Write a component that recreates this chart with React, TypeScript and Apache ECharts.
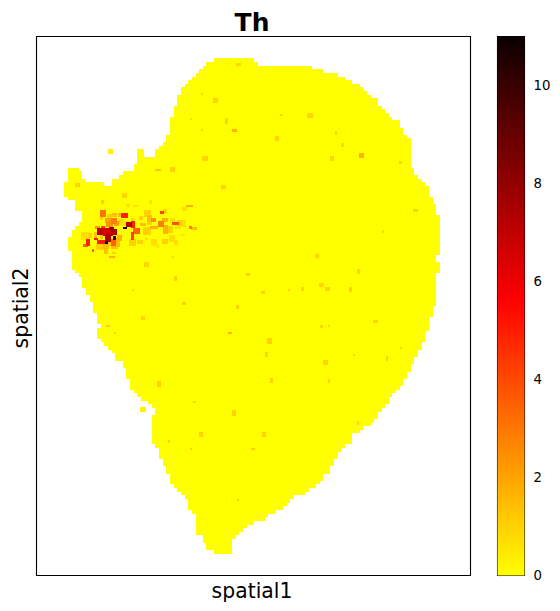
import React, { useEffect, useRef } from "react";
import * as echarts from "echarts";

const titleText = "Th";
const xName = "spatial1";
const yName = "spatial2";
const colorbarTicks = [0, 2, 4, 6, 8, 10];
const valueMax = 11;
const colormap = ["#ffff00", "#ff0000", "#0b0000"];
const gridCols = 119;
const gridRows = 148;
const firstRow = 6;

// Tissue outline: first and one-past-last column of each grid row, from firstRow downward.
const leftEdge = [
  49, 47, 46, 45, 44, 43, 42, 41, 40, 40, 39, 39, 39, 38, 38, 38, 37, 37, 37, 37, 37, 36, 36, 35, 34, 33, 33, 28, 28, 27,
  27, 24, 23, 21, 21, 8, 8, 8, 9, 11, 11, 11, 13, 13, 13, 12, 11, 10, 10, 9, 9, 9, 9, 10, 10, 10, 10, 10, 11, 12,
  13, 13, 13, 14, 14, 15, 15, 16, 16, 16, 17, 17, 17, 18, 17, 17, 17, 18, 19, 20, 21, 22, 22, 24, 24, 25, 25, 25, 26, 26,
  26, 27, 28, 29, 31, 32, 33, 33, 32, 32, 32, 32, 32, 32, 32, 32, 33, 34, 34, 34, 35, 35, 36, 36, 37, 37, 37, 38, 39, 40,
  41, 42, 42, 42, 43, 44, 44, 44, 44, 44, 44, 46, 46, 47, 47, 49,
];
const rightEdge = [
  60, 61, 76, 79, 83, 85, 87, 89, 90, 91, 92, 94, 94, 95, 96, 97, 98, 100, 100, 101, 101, 102, 103, 103, 103, 103, 103, 103, 103, 103,
  104, 104, 105, 106, 107, 108, 108, 108, 109, 109, 110, 110, 110, 111, 111, 111, 111, 111, 111, 111, 111, 111, 111, 111, 110, 110, 111, 111, 111, 110,
  110, 110, 110, 110, 110, 110, 110, 110, 109, 109, 109, 108, 108, 108, 108, 107, 107, 107, 106, 106, 105, 105, 104, 104, 103, 103, 102, 102, 101, 101,
  100, 99, 98, 97, 97, 96, 95, 94, 94, 93, 92, 90, 89, 87, 87, 87, 85, 84, 83, 83, 82, 82, 81, 81, 79, 79, 78, 77, 75, 74,
  71, 70, 69, 68, 66, 64, 63, 60, 58, 57, 56, 55, 54, 54, 54, 54,
];
// Rows whose tissue is split: [first column, row, one-past-last column]
const extraSpans = [
  [28, 31, 30], [28, 32, 30],
  [9, 36, 12], [9, 37, 13], [9, 38, 13], [9, 39, 14], [8, 40, 19],
];
// Expression spots: [column, row, column span, row span, value]
const spots = [
  [55.7, 7.6, 1.4, 0.8, 0.9], [45.7, 15.8, 0.55, 0.55, 0.9], [49.6, 17.5, 1.4, 1.4, 0.9], [42.7, 22.7, 0.55, 0.55, 0.9],
  [52.4, 23.2, 0.8, 1.6, 0.9], [45.7, 25.7, 0.55, 0.55, 0.9], [54.6, 25.8, 1.4, 0.8, 1.6], [46.6, 33.5, 1.4, 1.4, 0.9],
  [37.6, 36.5, 1.4, 1.4, 1], [33.7, 36.7, 1.4, 0.55, 1.3], [11.7, 40.8, 1.4, 1.1, 1], [51.6, 41.3, 1.4, 1.1, 1],
  [24.6, 43.7, 1.4, 1.4, 0.9], [67.5, 21.6, 0.8, 0.55, 1], [75.4, 21.6, 1.4, 1.4, 0.9], [66.3, 27.9, 1.1, 1.4, 1],
  [82.5, 26.5, 0.55, 1.1, 0.9], [84.3, 29.8, 0.8, 1.1, 0.9], [89.5, 32.6, 1.4, 1.4, 1.7], [81.4, 33.5, 1.1, 1.4, 0.9],
  [100.2, 34.6, 0.8, 0.8, 0.9], [104.3, 47.7, 1.4, 0.8, 1], [30.6, 62.6, 1.4, 1.4, 0.9], [38.5, 66.4, 0.8, 1.4, 1],
  [58.4, 65.3, 1.1, 0.8, 1], [26.8, 69.6, 0.55, 0.55, 1], [40.8, 73.3, 1.1, 0.8, 1], [55.4, 74.3, 0.8, 1.1, 0.9],
  [29.5, 77.3, 1.1, 1.1, 0.9], [19.9, 79.5, 1.1, 0.55, 1], [21.8, 81.4, 0.55, 0.55, 1], [53.4, 81.4, 1.1, 0.55, 1.7],
  [33.9, 95.5, 1.1, 1.6, 1], [43.6, 100.4, 0.8, 0.55, 1], [54.5, 103.4, 1.1, 1.6, 1], [29.6, 102.4, 1.4, 1.4, 0.3],
  [20.7, 31.6, 1.6, 1.4, 0.3], [95.4, 53.5, 0.55, 0.8, 0.9], [77.3, 60.3, 1.1, 1.1, 0.9], [88.7, 64.5, 0.8, 1.4, 1],
  [78.5, 68.3, 1.4, 1.1, 0.9], [62.5, 70.3, 1.1, 0.8, 1], [69.6, 69.6, 0.55, 0.55, 1], [73.4, 69.4, 0.8, 1.1, 1],
  [80.3, 69.4, 1.4, 1.1, 1], [86.6, 69.5, 0.8, 1.4, 1], [93.3, 78.2, 1.4, 0.8, 1], [78.5, 79.6, 0.8, 0.8, 1],
  [80.6, 79.6, 0.55, 0.55, 1], [64.4, 83.6, 1.4, 1.4, 1], [63.4, 87.3, 0.8, 1.4, 1], [87.5, 87.5, 0.55, 0.55, 1],
  [100.3, 85.6, 0.55, 0.55, 1], [96.5, 88.4, 0.55, 1.4, 1], [79.7, 89.5, 1.4, 1.4, 0.9], [64.8, 94.5, 0.8, 1.4, 1],
  [80.6, 94.6, 0.55, 1.1, 1], [88.6, 106.2, 0.55, 1.1, 1], [45.4, 109.4, 1.1, 1.4, 1], [62.7, 109.4, 1.1, 1.4, 1],
  [36.6, 111.2, 0.55, 0.8, 1], [42.7, 113.3, 0.55, 0.55, 1], [59.7, 113.3, 1.1, 0.55, 1], [55.6, 127.3, 0.55, 0.55, 1],
];
// Dense patch on the left, low values first so the strongest sit on top.
const hotSpots = [
  [18.6, 45.5, 0.8, 1, 1], [31.7, 45.5, 1, 1, 0.7], [25.5, 46.4, 1, 0.7, 0.7], [27.6, 46.5, 1.4, 0.7, 0.7],
  [40.9, 47.4, 1.4, 1, 0.7], [35.7, 47.9, 1, 1, 1], [30.8, 48.6, 1.8, 1.8, 1], [31.4, 49.9, 1.4, 1.8, 1.4],
  [21.8, 49, 1.4, 1, 1.4], [23.2, 49, 1, 1, 1.4], [20.4, 49.3, 1.4, 1, 1], [18.2, 49.9, 1, 1, 1],
  [23.7, 50.9, 1.4, 1.4, 1], [26.7, 50.4, 1, 1, 1], [29.1, 49.9, 1, 1, 1], [37.8, 50.4, 1.4, 1.4, 0.7],
  [39.5, 51.2, 1.4, 1.8, 1], [31.4, 51.3, 1.4, 1, 1], [29.6, 51.6, 1.8, 1, 1.4], [24.1, 51.3, 1.8, 1.4, 0.7],
  [40.8, 51.3, 1, 1.8, 0.7], [43.6, 52.7, 1.4, 1, 1.4], [39.2, 52.4, 1.4, 1, 0.7], [37.1, 53, 1.4, 2.1, 1],
  [30.7, 53.4, 2.1, 2.1, 1], [14.9, 54.7, 1.4, 1.4, 1], [13.6, 54.7, 1.8, 2.1, 0.7], [16.6, 54.7, 1, 1.8, 1.4],
  [18.2, 55, 1, 1, 1.4], [37.6, 55.4, 1.8, 1.8, 0.7], [40.6, 54.5, 1, 0.7, 0.7], [30.5, 55.6, 0.7, 0.7, 0.7],
  [26.7, 56.5, 1.8, 1.8, 1], [28.8, 56.5, 1.8, 1, 1], [32.6, 56.5, 1.8, 1.8, 0.7], [35.6, 56.4, 1.8, 1.4, 1],
  [38.7, 56.6, 1, 1.4, 0.7], [22.7, 56.5, 1.4, 2.4, 1.4], [20, 56.8, 1.8, 1.4, 1], [17.7, 57.7, 1.8, 1.8, 1],
  [19.5, 57.7, 1.8, 1.4, 1.4], [21.8, 57.9, 1.8, 1, 1.4], [19.5, 58.9, 1, 1.4, 1.4], [21.6, 59.4, 1, 0.7, 1],
  [33.7, 57.7, 0.7, 1, 0.7], [37.7, 60.5, 0.7, 0.7, 0.7],
  [42.4, 46.5, 1.8, 0.7, 1.7], [20, 50.4, 1.4, 1.4, 2], [35.6, 50.4, 1.8, 1, 1.7], [32.6, 52.4, 2.1, 0.7, 1.7],
  [35.8, 52.9, 1.4, 2.4, 1.7], [23.2, 55.3, 1.4, 1.8, 1.7], [21.1, 60.5, 1.4, 0.7, 1.7], [22.3, 51.3, 1.4, 1.4, 2],
  [20.4, 51.6, 1.8, 1.4, 2.4], [17.2, 52.5, 1.4, 0.7, 2.4], [32.6, 50.4, 1.4, 1, 2.4], [21.6, 50.6, 1.8, 1.8, 2.8],
  [34.5, 51.5, 1.8, 1.8, 2.8], [42.7, 52.5, 0.7, 0.7, 2.8], [18.6, 48.6, 1.8, 1.8, 3], [27.8, 53.4, 1.8, 1.4, 3.4],
  [13.8, 57.4, 1.4, 1, 3.4], [21.5, 56.5, 1.4, 1.8, 3.4], [15.9, 58.7, 0.7, 0.7, 3.4],
  [38.5, 51.4, 1.8, 0.7, 3.8], [34.8, 48.4, 1, 0.7, 4.1], [18.6, 52.5, 1, 1, 4.1], [26.7, 54.7, 0.7, 2.1, 4.1],
  [24.6, 49.2, 1.8, 1.4, 4.8], [26.8, 51.6, 1, 1.8, 4.8], [16.8, 55.6, 1, 0.7, 4.8], [14.5, 56.5, 1, 1.8, 4.8],
  [18.3, 56.5, 2.4, 1, 4.8], [20, 53.6, 2.8, 2.1, 6.4], [17.9, 53.5, 1.8, 1.8, 6.9], [25.7, 51.6, 1.6, 1.6, 7.1],
  [21.6, 53.6, 1.6, 1.6, 7.3], [20, 55.4, 1.6, 2.1, 7.3], [20.9, 52.7, 1.3, 1, 7.7], [21.8, 55.3, 0.9, 1.2, 10.3],
  [24.6, 52.5, 1.2, 0.6, 11], [19.6, 56.5, 0.6, 0.9, 11],
];

const bodySpans = leftEdge.map((c, i) => [c, firstRow + i, rightEdge[i]]);
const allSpans = [...extraSpans, ...bodySpans];
const font = "DejaVu Sans";

export default function App() {
  const ref = useRef<HTMLDivElement>(null);
  useEffect(() => {
    const chart = echarts.init(ref.current!, undefined, { renderer: "svg" });
    chart.setOption({
      animation: false,
      backgroundColor: "#ffffff",
      title: {
        text: titleText,
        left: 247,
        top: 5,
        textAlign: "center",
        textStyle: { fontFamily: font, fontWeight: "bold", fontSize: 25, color: "#000" },
      },
      grid: [
        { left: 36.5, top: 36.5, width: 434, height: 539, show: true, borderColor: "#000", borderWidth: 1.1, backgroundColor: "#fff", outerBoundsMode: "none" },
        { left: 497.5, top: 36.5, width: 27, height: 539, show: true, borderColor: "#000", borderWidth: 1.1, backgroundColor: "transparent", outerBoundsMode: "none" },
      ],
      xAxis: [
        {
          type: "value", gridIndex: 0, min: 0.4, max: gridCols + 0.4,
          name: xName, nameLocation: "middle", nameGap: 5,
          nameTextStyle: { fontFamily: font, fontSize: 20.4, color: "#000", padding: [0, 3, 0, 0] },
          axisLine: { show: false }, axisTick: { show: false }, axisLabel: { show: false }, splitLine: { show: false },
        },
        {
          type: "value", gridIndex: 1, min: 0, max: 1,
          axisLine: { show: false }, axisTick: { show: false }, axisLabel: { show: false }, splitLine: { show: false },
        },
      ],
      yAxis: [
        {
          type: "value", gridIndex: 0, min: 0, max: gridRows, inverse: true,
          name: yName, nameLocation: "middle", nameGap: 6,
          nameTextStyle: { fontFamily: font, fontSize: 20.4, color: "#000", padding: [0, 4, 0, 0] },
          axisLine: { show: false }, axisTick: { show: false }, axisLabel: { show: false }, splitLine: { show: false },
        },
        {
          type: "value", gridIndex: 1, min: 0, max: valueMax, position: "right",
          axisLine: { show: false },
          axisTick: { show: true, length: 4, customValues: colorbarTicks, lineStyle: { color: "#000", width: 1.1 } },
          axisLabel: { show: true, customValues: colorbarTicks, margin: 9, fontFamily: font, fontSize: 13.3, color: "#000" },
          splitLine: { show: false },
        },
      ],
      visualMap: {
        show: false, type: "continuous", min: 0, max: valueMax, dimension: 4, seriesIndex: [1],
        inRange: { color: colormap },
      },
      series: [
        {
          type: "custom", xAxisIndex: 0, yAxisIndex: 0, silent: true, data: allSpans,
          renderItem: (_: any, api: any) => {
            const a = api.coord([api.value(0), api.value(1)]);
            const b = api.coord([api.value(2), api.value(1) + 1]);
            const x = Math.round(a[0]), y = Math.round(a[1]);
            return { type: "rect", shape: { x, y, width: Math.round(b[0]) - x, height: Math.round(b[1]) - y }, style: { fill: colormap[0] } };
          },
        },
        {
          type: "custom", xAxisIndex: 0, yAxisIndex: 0, silent: true, data: [...spots, ...hotSpots],
          renderItem: (_: any, api: any) => {
            const c = api.value(0), r = api.value(1), w = api.value(2), h = api.value(3);
            const a = api.coord([c - w / 2, r - h / 2]);
            const b = api.coord([c + w / 2, r + h / 2]);
            const x = Math.round(a[0]), y = Math.round(a[1]);
            return { type: "rect", shape: { x, y, width: Math.max(2, Math.round(b[0]) - x), height: Math.max(2, Math.round(b[1]) - y) }, style: { fill: api.visual("color") } };
          },
        },
        {
          type: "custom", xAxisIndex: 1, yAxisIndex: 1, silent: true, data: [[0, 0, 1, valueMax]],
          renderItem: (_: any, api: any) => {
            const a = api.coord([api.value(0), api.value(3)]);
            const b = api.coord([api.value(2), api.value(1)]);
            return {
              type: "rect",
              shape: { x: a[0], y: a[1], width: b[0] - a[0], height: b[1] - a[1] },
              style: {
                fill: new echarts.graphic.LinearGradient(0, 0, 0, 1, [
                  { offset: 0, color: colormap[2] },
                  { offset: 0.49, color: colormap[1] },
                  { offset: 1, color: colormap[0] },
                ]),
              },
            };
          },
        },
      ],
    });
    return () => chart.dispose();
  }, []);
  return <div ref={ref} style={{ position: "absolute", left: 0, top: 0, width: 560, height: 611 }} />;
}
